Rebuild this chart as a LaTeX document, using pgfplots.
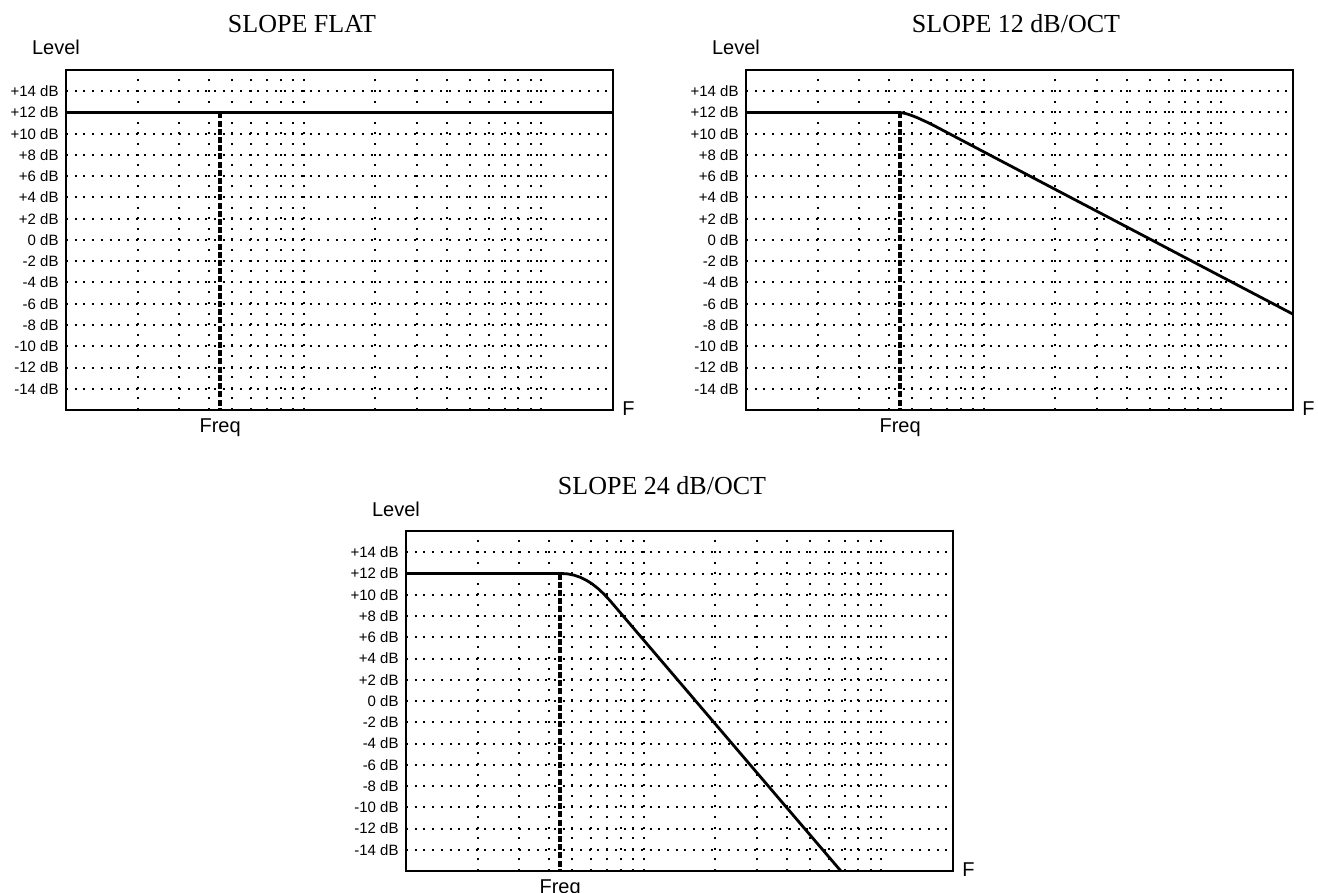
\documentclass[border=0pt]{standalone}
\usepackage{fontspec}
\setmainfont{Liberation Sans}
\newfontfamily\titlefont{Liberation Serif}
\usepackage{pgfplots}
\pgfplotsset{compat=1.18}

\tikzset{
  resp/.style={black, line width=1.4pt, line join=round},
  cutoff/.style={black, line width=1.8pt, dash pattern=on 3pt off 1.1pt},
  lbl/.style={font=\fontsize{10}{12}\selectfont},
}

\newcommand\panelnotes[2]{%
  \node[anchor=base, xshift=#1, yshift=18.5pt, font=\titlefont\fontsize{13}{15}\selectfont]
    at (rel axis cs:0,1) {#2};
  \node[lbl, anchor=base, inner sep=0pt, xshift=-5pt, yshift=7.5pt] at (rel axis cs:0,1) {Level};
  \node[lbl, anchor=north, inner sep=0pt, yshift=-4pt] at (axis cs:4.45,-16) {Freq};
  \node[lbl, anchor=base west, inner sep=0pt, xshift=4.5pt, yshift=-2.5pt] at (rel axis cs:1,0) {F};
}

\pgfplotsset{
  every axis/.append style={
    scale only axis, width=273.5pt, height=170pt,
    anchor=north west, clip=false,
    xmin=1, xmax=200, ymin=-16, ymax=16,
    xtick={1,10,100},
    minor xtick={2,3,4,5,6,7,8,9,20,30,40,50,60,70,80,90},
    xticklabel=\empty,
    ytick={-14,-12,-10,-8,-6,-4,-2,0,2,4,6,8,10,12,14},
    yticklabels={-14 dB,-12 dB,-10 dB,-8 dB,-6 dB,-4 dB,-2 dB,0 dB,+2 dB,+4 dB,+6 dB,+8 dB,+10 dB,+12 dB,+14 dB},
    major tick length=0pt, minor tick length=0pt,
    xmajorgrids, xminorgrids, ymajorgrids,
    major grid style={black, line width=1pt},
    minor grid style={black, line width=1pt},
    x grid style={dash pattern=on 1pt off 4.3pt},
    y grid style={dash pattern=on 1pt off 3.35pt},
    axis line style={line width=1.3pt},
    yticklabel style={font=\fontsize{7.5}{8}\selectfont, inner sep=0pt, xshift=-3.5pt},
  },
}

\begin{document}
\begin{tikzpicture}
\path[use as bounding box] (0,0) rectangle (659pt,-446.5pt);

% flat
\begin{semilogxaxis}[at={(33pt,-35pt)}]
\addplot[cutoff] coordinates {(4.45,12) (4.45,-16)};
\addplot[resp] coordinates {(1,12) (200,12)};
\panelnotes{118pt}{SLOPE FLAT}
\end{semilogxaxis}

% 12 dB/oct
\begin{semilogxaxis}[at={(373pt,-35pt)}]
\addplot[cutoff] coordinates {(4.45,12) (4.45,-16)};
\addplot[resp] coordinates {
  (1,12) (4.4,12) (4.51,11.98) (4.66,11.92) (4.835,11.815) (5.04,11.67)
  (5.28,11.49) (5.56,11.26) (5.89,11.0) (6.27,10.69) (10,8.3) (20,4.76)
  (50,0.09) (100,-3.45) (200,-6.98)
};
\panelnotes{135pt}{SLOPE 12 dB/OCT}
\end{semilogxaxis}

% 24 dB/oct
\begin{semilogxaxis}[at={(203pt,-265.5pt)}]
\addplot[cutoff] coordinates {(4.45,12) (4.45,-16)};
\addplot[resp] coordinates {
  (1,12) (4.52,12) (4.80,11.96) (5.10,11.84) (5.40,11.65) (5.73,11.37)
  (6.07,11.02) (6.42,10.59) (6.79,10.08) (7.18,9.50) (10,5.73) (20,-2.16)
  (40,-10.05) (67.5,-16)
};
\panelnotes{128pt}{SLOPE 24 dB/OCT}
\end{semilogxaxis}
\end{tikzpicture}
\end{document}
